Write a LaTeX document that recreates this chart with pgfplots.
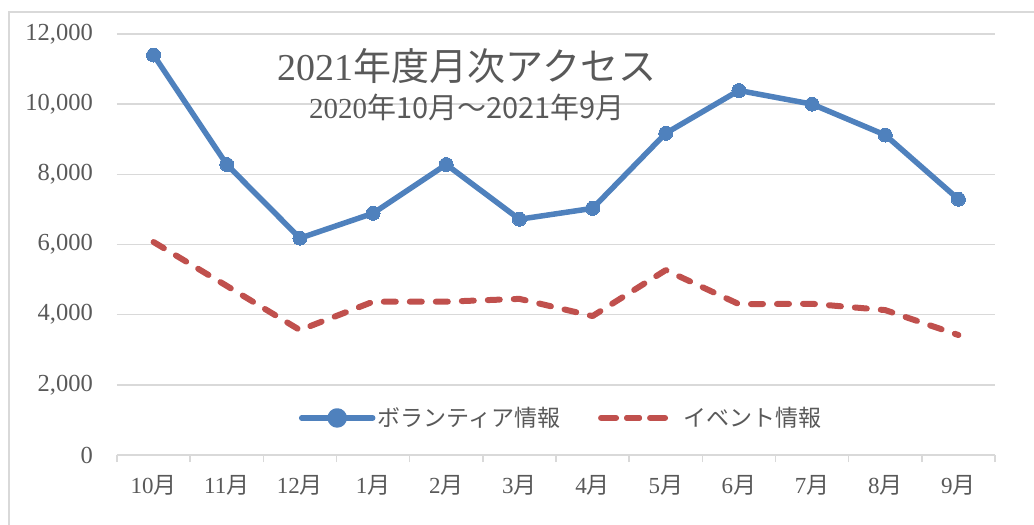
\documentclass[border=0pt]{standalone}
\usepackage{pgfplots}
\pgfplotsset{compat=1.18}
\usepackage{fontspec}
\setmainfont{Liberation Serif}
\newfontfamily\cjk{Noto Sans CJK JP}
\definecolor{blueS}{HTML}{4F81BD}
\definecolor{redS}{HTML}{C0504D}
\definecolor{gridc}{HTML}{D9D9D9}
\definecolor{txt}{HTML}{595959}
\begin{document}
\begin{tikzpicture}[x=1pt,y=1pt]
\useasboundingbox (0,0) rectangle (1034,525);
\draw[gridc, line width=1.5pt] (9,-10) -- (9,513) -- (1044,513);
\begin{axis}[
  at={(117pt,70pt)}, anchor=south west,
  scale only axis, width=878pt, height=421pt,
  xmin=-0.5, xmax=11.5, ymin=0, ymax=12000,
  axis line style={draw=none},
  xtick={0,...,11},
  xticklabels={10\cjk{月},11\cjk{月},12\cjk{月},1\cjk{月},2\cjk{月},3\cjk{月},4\cjk{月},5\cjk{月},6\cjk{月},7\cjk{月},8\cjk{月},9\cjk{月}},
  minor xtick={-0.5,0.5,...,11.5},
  xtick pos=bottom, ytick pos=left,
  major tick length=0pt, minor tick length=7pt,
  xtick align=outside,
  minor x tick style={gridc, line width=1.5pt},
  ytick={0,2000,...,12000},
  scaled y ticks=false,
  ymajorgrids, grid style={gridc, line width=1.5pt},
  /pgf/number format/.cd, fixed, 1000 sep={,}, assume math mode=true,
  /pgfplots/.cd,
  yticklabel style={font=\fontsize{24.5}{28}\selectfont, text=txt, inner sep=0pt, xshift=-24pt},
  xticklabel style={font=\fontsize{23}{27}\selectfont, text=txt, inner sep=0pt, anchor=base, yshift=-38pt},
  clip=false,
  legend style={draw=none, fill=none, at={(0.5057,0.088)}, anchor=center,
    legend columns=2, font=\fontsize{23}{27}\selectfont\cjk, text=txt,
    /tikz/every even column/.append style={column sep=36pt}},
]
\addplot[blueS, line width=5.5pt, line join=round, mark=*, mark size=7pt, mark options={solid, fill=blueS, draw=blueS, line width=0pt},
  legend image code/.code={\draw[blueS, line width=5.5pt, line cap=round] (0pt,0pt) -- (71pt,0pt); \fill[blueS] (35.5pt,0pt) circle (7pt);}]
coordinates {(0,11400)(1,8280)(2,6180)(3,6890)(4,8280)(5,6720)(6,7030)(7,9170)(8,10390)(9,10000)(10,9120)(11,7290)};
\addlegendentry{ボランティア情報}
\addplot[redS, line width=6pt, line cap=round, line join=round, dash pattern=on 12pt off 14pt,
  legend image code/.code={\draw[redS, line width=6pt, line cap=round] (3pt,0pt) -- (15pt,0pt) (26pt,0pt) -- (38pt,0pt) (49pt,0pt) -- (61pt,0pt); \path (0pt,0pt) -- (77pt,0pt);}]
coordinates {(0,6070)(1,4820)(2,3560)(3,4370)(4,4370)(5,4450)(6,3960)(7,5270)(8,4300)(9,4310)(10,4130)(11,3420)};
\addlegendentry{イベント情報}
\end{axis}
\node[text=txt, font=\fontsize{38}{44}\selectfont, inner sep=0pt] at (467,459) {2021\cjk{年度月次アクセス}};
\node[text=txt, font=\fontsize{29}{34}\selectfont, inner sep=0pt] at (467,418) {2020\cjk{年}10\cjk{月～}2021\cjk{年}9\cjk{月}};
\end{tikzpicture}
\end{document}
